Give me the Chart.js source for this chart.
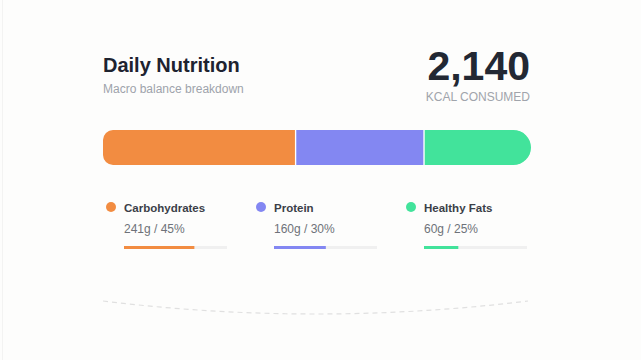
<!DOCTYPE html>
<html>
<head>
<meta charset="utf-8">
<script src="https://cdn.jsdelivr.net/npm/chart.js@4"></script>
<style>
  html, body { margin: 0; padding: 0; }
  body {
    width: 641px; height: 360px; position: relative; overflow: hidden;
    background: #fdfdfc;
    font-family: "Liberation Sans", Arial, sans-serif;
  }
  .edge { position: absolute; left: 2px; top: 0; width: 1px; height: 360px; background: #f3f3f2; }
  .abs { position: absolute; white-space: nowrap; }
  #title { left: 103px; top: 55px; font-size: 20px; line-height: 20px; font-weight: bold; color: #1e2330; }
  #subtitle { left: 103px; top: 83px; font-size: 12px; line-height: 12px; color: #9ea3ab; }
  #total { right: 111px; top: 46px; font-size: 41px; line-height: 41px; font-weight: bold; color: #222833; }
  #totalLabel { right: 111px; top: 91px; font-size: 12px; line-height: 12px; color: #a0a4ab; }
  .dot { position: absolute; width: 10px; height: 10px; border-radius: 50%; }
  .lbl { font-size: 11.5px; line-height: 12px; font-weight: bold; color: #3b3f48; }
  .val { font-size: 12px; line-height: 12px; color: #6e7279; }
  canvas { position: absolute; }
  svg { position: absolute; left: 0; top: 0; }
</style>
</head>
<body>
<div class="edge"></div>
<div id="title" class="abs">Daily Nutrition</div>
<div id="subtitle" class="abs">Macro balance breakdown</div>
<div id="total" class="abs"></div>
<div id="totalLabel" class="abs">KCAL CONSUMED</div>

<canvas id="macroBar" width="428" height="35" style="left:103px; top:130px;"></canvas>
<div id="legend"></div>

<svg width="641" height="360">
  <path d="M103 301 Q315 327 528 301" fill="none" stroke="#e0e0e0" stroke-width="1.2" stroke-dasharray="5 4"/>
</svg>

<script>
const macros = ["Carbohydrates", "Protein", "Healthy Fats"];
const percents = [45, 30, 25];
const grams = [241, 160, 60];
const goalProgress = [68, 50, 33]; // fill of the little bars, % of daily goal
const colors = ["#f28c41", "#8387f2", "#42e39b"];
const totalKcal = 2140;

Chart.defaults.animation = false;

document.getElementById("total").textContent = totalKcal.toLocaleString("en-US");

// main stacked bar
const radii = [
  { topLeft: 10, bottomLeft: 10 },
  0,
  { topRight: 17.5, bottomRight: 17.5 }
];
const borders = [
  { right: 1, left: 0, top: 0, bottom: 0 },
  { right: 1, left: 1, top: 0, bottom: 0 },
  { right: 0, left: 1, top: 0, bottom: 0 }
];

new Chart(document.getElementById("macroBar"), {
  type: "bar",
  data: {
    labels: ["macros"],
    datasets: macros.map((name, i) => ({
      label: name,
      data: [percents[i]],
      backgroundColor: colors[i],
      borderColor: "#ffffff",
      borderWidth: borders[i],
      borderRadius: radii[i],
      borderSkipped: false,
      barPercentage: 1,
      categoryPercentage: 1
    }))
  },
  options: {
    indexAxis: "y",
    responsive: false,
    layout: { padding: 0 },
    plugins: { legend: { display: false }, tooltip: { enabled: false } },
    scales: {
      x: { stacked: true, display: false, min: 0, max: 100 },
      y: { stacked: true, display: false }
    }
  }
});

// legend with small progress bars
const legend = document.getElementById("legend");
macros.forEach((name, i) => {
  const x = 103 + i * 150;

  const dot = document.createElement("div");
  dot.className = "dot";
  dot.style.left = (x + 3) + "px";
  dot.style.top = "202px";
  dot.style.background = colors[i];
  legend.appendChild(dot);

  const lbl = document.createElement("div");
  lbl.className = "abs lbl";
  lbl.style.left = (x + 21) + "px";
  lbl.style.top = "202px";
  lbl.textContent = name;
  legend.appendChild(lbl);

  const val = document.createElement("div");
  val.className = "abs val";
  val.style.left = (x + 21) + "px";
  val.style.top = "223px";
  val.textContent = grams[i] + "g / " + percents[i] + "%";
  legend.appendChild(val);

  const cv = document.createElement("canvas");
  cv.width = 103;
  cv.height = 3;
  cv.style.left = (x + 21) + "px";
  cv.style.top = "246px";
  legend.appendChild(cv);

  new Chart(cv, {
    type: "bar",
    data: {
      labels: [name],
      datasets: [
        { data: [goalProgress[i]], backgroundColor: colors[i], borderRadius: 1.5, borderSkipped: false },
        { data: [100 - goalProgress[i]], backgroundColor: "#f0f0f0", borderRadius: 1.5, borderSkipped: false }
      ]
    },
    options: {
      indexAxis: "y",
      responsive: false,
      layout: { padding: 0 },
      datasets: { bar: { barPercentage: 1, categoryPercentage: 1 } },
      plugins: { legend: { display: false }, tooltip: { enabled: false } },
      scales: {
        x: { stacked: true, display: false, min: 0, max: 100 },
        y: { stacked: true, display: false }
      }
    }
  });
});
</script>
</body>
</html>
